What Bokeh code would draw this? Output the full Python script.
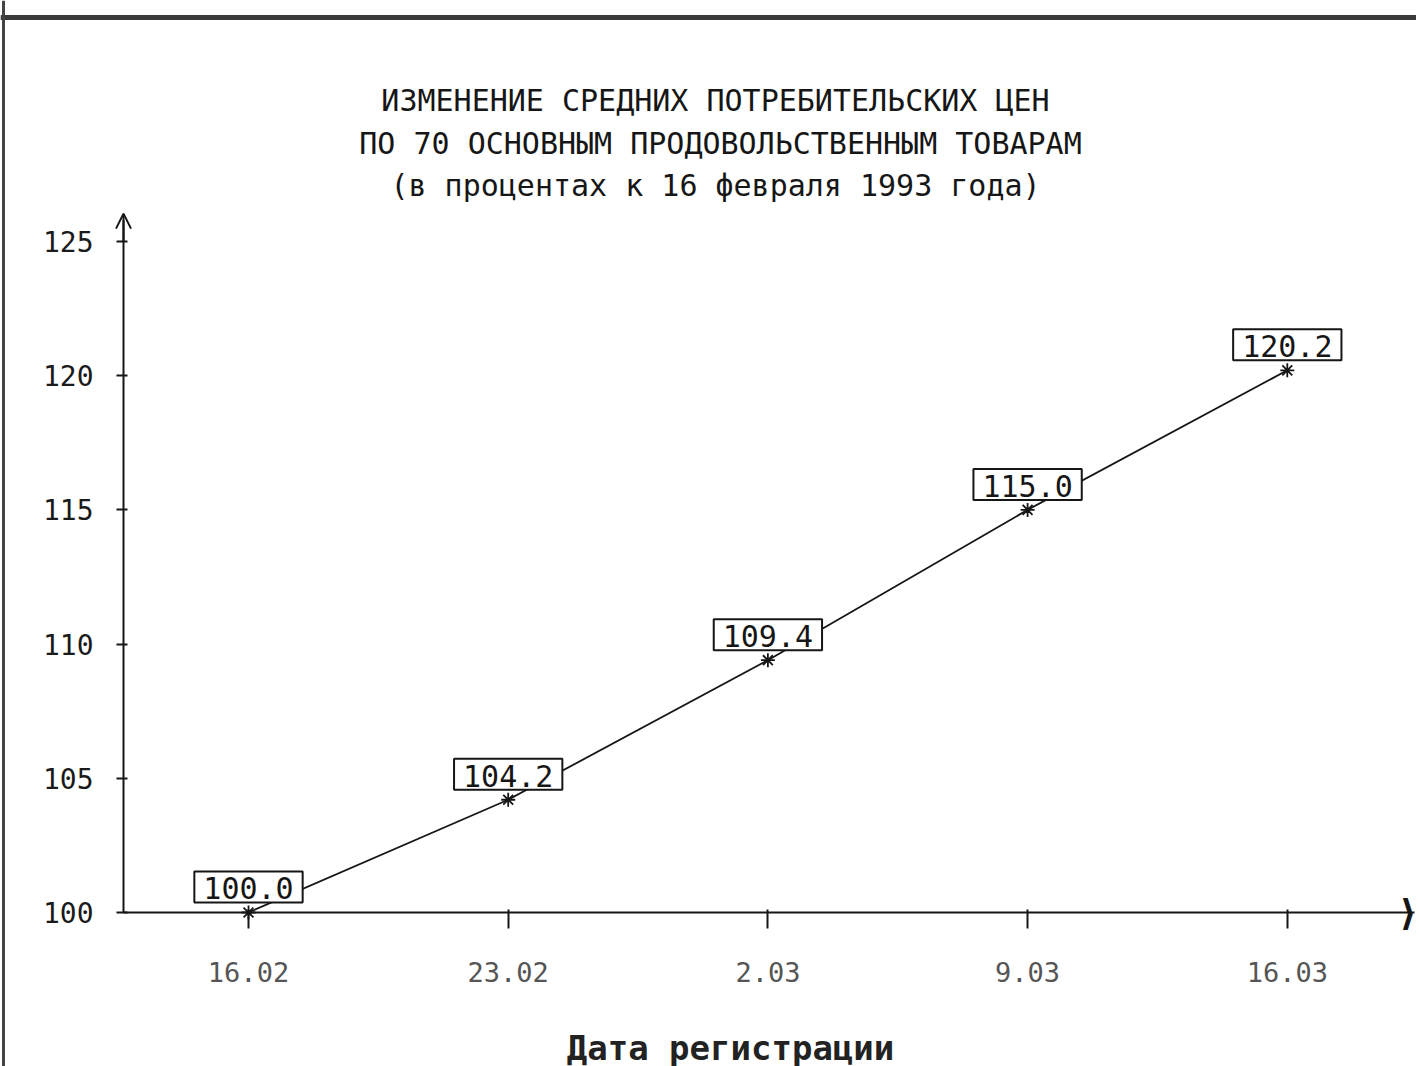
import math
from bokeh.plotting import figure
from bokeh.models import FixedTicker, Range1d, Label, Arrow, OpenHead, Span
from bokeh.core.properties import value
from bokeh.embed import file_html
from bokeh.resources import INLINE

# ---- data ----
dates = ["16.02", "23.02", "2.03", "9.03", "16.03"]
values = [100.0, 104.2, 109.4, 115.0, 120.2]
labels = ["100.0", "104.2", "109.4", "115.0", "120.2"]
y_ticks = [100, 105, 110, 115, 120, 125]
title_lines = [
    "ИЗМЕНЕНИЕ СРЕДНИХ ПОТРЕБИТЕЛЬСКИХ ЦЕН",
    "ПО 70 ОСНОВНЫМ ПРОДОВОЛЬСТВЕННЫМ ТОВАРАМ",
    "(в процентах к 16 февраля 1993 года)",
]
x_title = "Дата регистрации"

xs = list(range(len(dates)))
FONT = "DejaVu Sans Mono"
INK = "#161616"

W, H = 1416, 1066
# the frame fills the whole canvas; the axes sit at fixed data positions inside it
X_LO, X_HI = -0.95495, 4.4975
Y_LO, Y_HI = 94.262, 133.979
X_AXIS_AT = -0.4813          # where the value axis stands
X_AXIS_END = 4.49            # tip of the category axis
Y_AXIS_END = 125.8           # top of the value axis
Y_ARROW_TIP = 126.04

p = figure(
    width=W, height=H,
    output_backend="svg", toolbar_location=None,
    x_range=Range1d(X_LO, X_HI), y_range=Range1d(Y_LO, Y_HI),
    min_border_left=0, min_border_right=0, min_border_top=0, min_border_bottom=0,
)
p.title = None
p.outline_line_color = None
p.grid.visible = False
p.background_fill_color = "white"
p.border_fill_color = "white"

# scanned-page edges (top band and left edge)
p.add_layout(Span(location=133.35, dimension="width", line_color="#3a3a3a", line_width=5))
p.add_layout(Span(location=-0.9434, dimension="height", line_color="#444444", line_width=3))

# ---- title (three centred lines) ----
title_x = [715, 720, 715]
title_y = [966, 923, 881]
for txt, tx, ty in zip(title_lines, title_x, title_y):
    p.add_layout(Label(x=tx, y=ty, x_units="screen", y_units="screen", text=txt,
                       text_align="center", text_baseline="middle",
                       text_font=FONT, text_font_size="30px", text_color=INK))

# ---- axes ----
xa = p.xaxis[0]
xa.fixed_location = 100
xa.bounds = (X_AXIS_AT, X_AXIS_END)
xa.ticker = FixedTicker(ticks=xs)
xa.major_label_overrides = {i: d for i, d in zip(xs, dates)}
xa.minor_tick_line_color = None
xa.major_tick_out = 16
xa.major_tick_in = 3
xa.major_tick_line_color = INK
xa.major_tick_line_width = 2
xa.major_label_standoff = 34
xa.major_label_text_font = FONT
xa.major_label_text_font_size = "27px"
xa.major_label_text_color = "#555555"
xa.axis_line_width = 2
xa.axis_line_color = INK

ya = p.yaxis[0]
ya.fixed_location = X_AXIS_AT
ya.bounds = (100, Y_AXIS_END)
ya.ticker = FixedTicker(ticks=y_ticks)
ya.minor_tick_line_color = None
ya.major_tick_out = 7
ya.major_tick_in = 4
ya.major_tick_line_color = INK
ya.major_tick_line_width = 2
ya.major_label_standoff = 23
ya.major_label_text_font = FONT
ya.major_label_text_font_size = "28px"
ya.major_label_text_color = "#1a1a1a"
ya.axis_line_width = 2
ya.axis_line_color = INK

# category-axis title
p.add_layout(Label(x=730, y=19, x_units="screen", y_units="screen", text=x_title,
                   text_align="center", text_baseline="middle",
                   text_font=FONT, text_font_size="34px", text_font_style="bold",
                   text_color="#222222"))

# axis arrow heads
p.add_layout(Arrow(end=OpenHead(size=15, line_width=2, line_color=INK),
                   x_start=X_AXIS_AT, y_start=125.0, x_end=X_AXIS_AT, y_end=Y_ARROW_TIP,
                   line_width=2, line_color=INK))
p.add_layout(Label(x=X_HI, y=100, text="⟩",
                   text_align="right", text_baseline="middle",
                   text_font="DejaVu Sans", text_font_size="36px", text_font_style="bold",
                   text_color=INK))

# ---- series ----
p.line(xs, values, line_color=INK, line_width=1.8)
p.scatter(xs, values, marker="asterisk", size=14, line_color=INK, line_width=1.8)
p.text(xs, values, text=labels, text_font=value(FONT), text_font_size="30px",
       text_align="center", text_baseline="bottom", y_offset=-10,
       text_color=INK,
       background_fill_color="white", border_line_color=INK, border_line_width=2,
       padding=dict(left=9, right=9, top=6, bottom=3))

open("out.html", "w").write(file_html(p, INLINE))
